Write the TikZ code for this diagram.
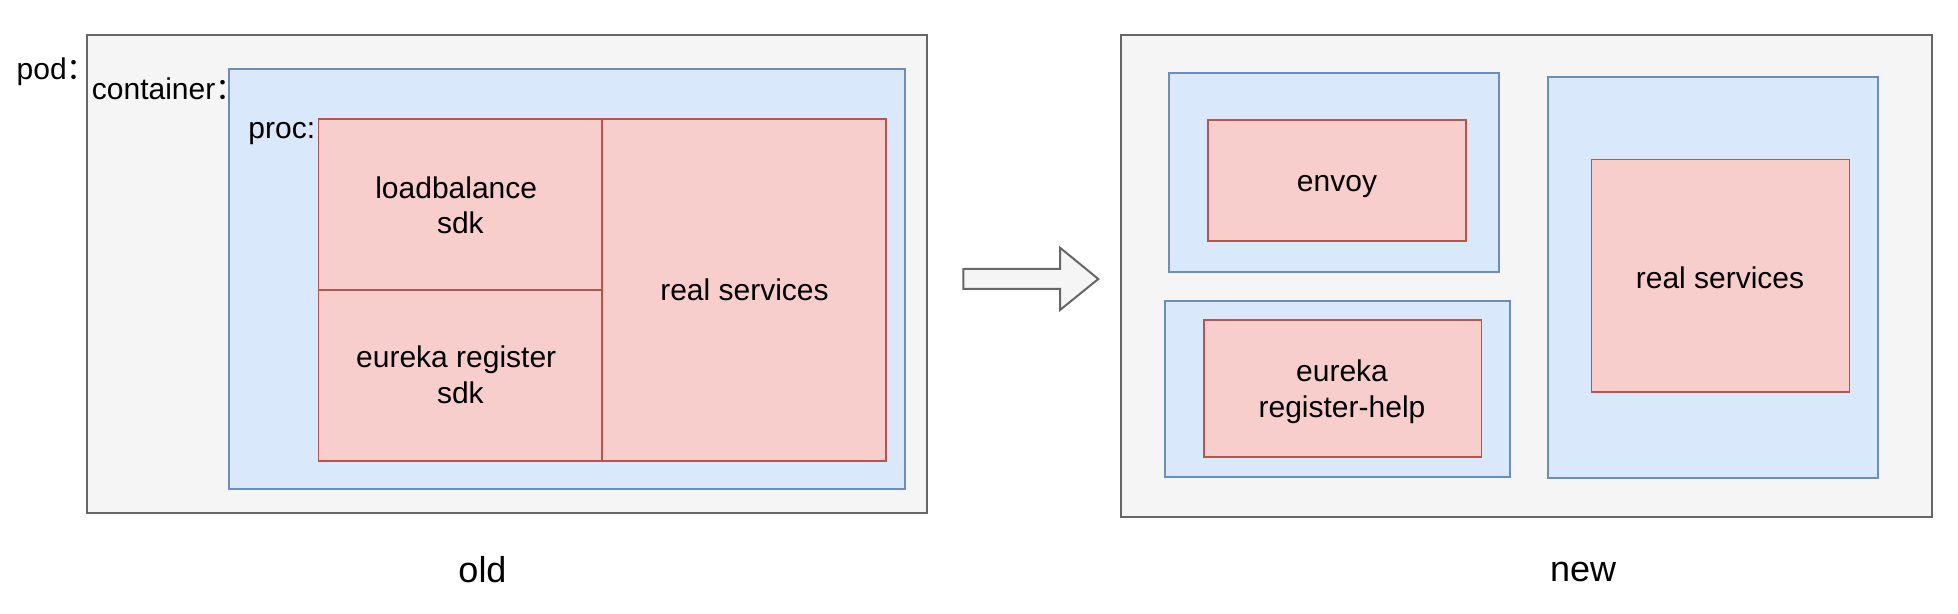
\documentclass[tikz,border=0pt]{standalone}
\usepackage{fontspec}
\setmainfont{Liberation Sans}
\newfontfamily\cjkfont{Noto Sans CJK SC}
\usetikzlibrary{fit}
\definecolor{podfill}{HTML}{F5F5F5}
\definecolor{podline}{HTML}{666666}
\definecolor{bluefill}{HTML}{DAE8FC}
\definecolor{blueline}{HTML}{6C8EBF}
\definecolor{redfill}{HTML}{F8CECC}
\definecolor{redline}{HTML}{B85450}
\begin{document}
\begin{tikzpicture}[x=0.5pt,y=-0.5pt,
  font=\fontsize{15pt}{18pt}\selectfont,
  podbox/.style={draw=podline, fill=podfill, line width=1pt, inner sep=0pt},
  ctbox/.style={draw=blueline, fill=bluefill, line width=0.85pt, inner sep=0pt},
  procbox/.style={draw=redline, fill=redfill, line width=0.85pt, inner sep=0pt},
  lbl/.style={anchor=base west, inner sep=0pt},
  txt/.style={anchor=base, inner sep=0pt},
  captxt/.style={anchor=base, inner sep=0pt, font=\fontsize{18pt}{21pt}\selectfont},
  bigarrow/.style={draw=podline, fill=podfill, line width=1pt, line join=miter}]
\useasboundingbox (0,0) rectangle (1958,614);

% ---------- old ----------
\node[podbox, fit={(86.7,35) (926.7,512.7)}] (podL) {};
\node[ctbox, fit={(228.7,69.3) (905,489)}] (ctL) {};
\node[procbox, fit={(318.5,119.3) (602.3,290)}] (lb) {};
\node[procbox, fit={(318.5,290) (602.3,461)}] (er) {};
\node[procbox, fit={(602.3,119.3) (886,461)}] (rsL) {};

\node[txt] (lbA) at (456.2,198.3) {loadbalance};
\node[txt] (lbB) at (460.4,233.8) {sdk};
\node[txt] (erA) at (456.2,367.5) {eureka register};
\node[txt] (erB) at (460.4,403.5) {sdk};
\node[txt] (rsLt) at (744.5,301) {real services};

\node[lbl] (podlbl) at (16.3,80) {pod{\cjkfont ：}};
\node[lbl] (ctlbl) at (91.5,99.3) {container{\cjkfont ：}};
\node[lbl] (proclbl) at (248,138.3) {proc:};

% ---------- arrow ----------
\draw[bigarrow] (963.3,269) -- (1060,269) -- (1060,247.7) -- (1098.3,279)
  -- (1060,310) -- (1060,289) -- (963.3,289) -- cycle;

% ---------- new ----------
\node[podbox, fit={(1121,35) (1931.5,516.7)}] (podR) {};
\node[ctbox, fit={(1169.2,72.8) (1498.8,271.7)}] (ctEnv) {};
\node[procbox, fit={(1208,120.2) (1466.2,240.8)}] (env) {};
\node[ctbox, fit={(1165.2,300.7) (1509.7,476.7)}] (ctEur) {};
\node[procbox, fit={(1203.9,320.3) (1481.5,457)}] (eur) {};
\node[ctbox, fit={(1548.3,77) (1877.8,477.7)}] (ctRs) {};
\node[procbox, fit={(1591.5,159.5) (1849.5,392)}] (rsR) {};

\node[txt] (envt) at (1337,191.7) {envoy};
\node[txt] (eurA) at (1342,381.7) {eureka};
\node[txt] (eurB) at (1342,417.7) {register-help};
\node[txt] (rsRt) at (1720,288.3) {real services};

% ---------- captions ----------
\node[captxt] (old) at (482.5,582.7) {old};
\node[captxt] (new) at (1583,581.7) {new};
\end{tikzpicture}
\end{document}
